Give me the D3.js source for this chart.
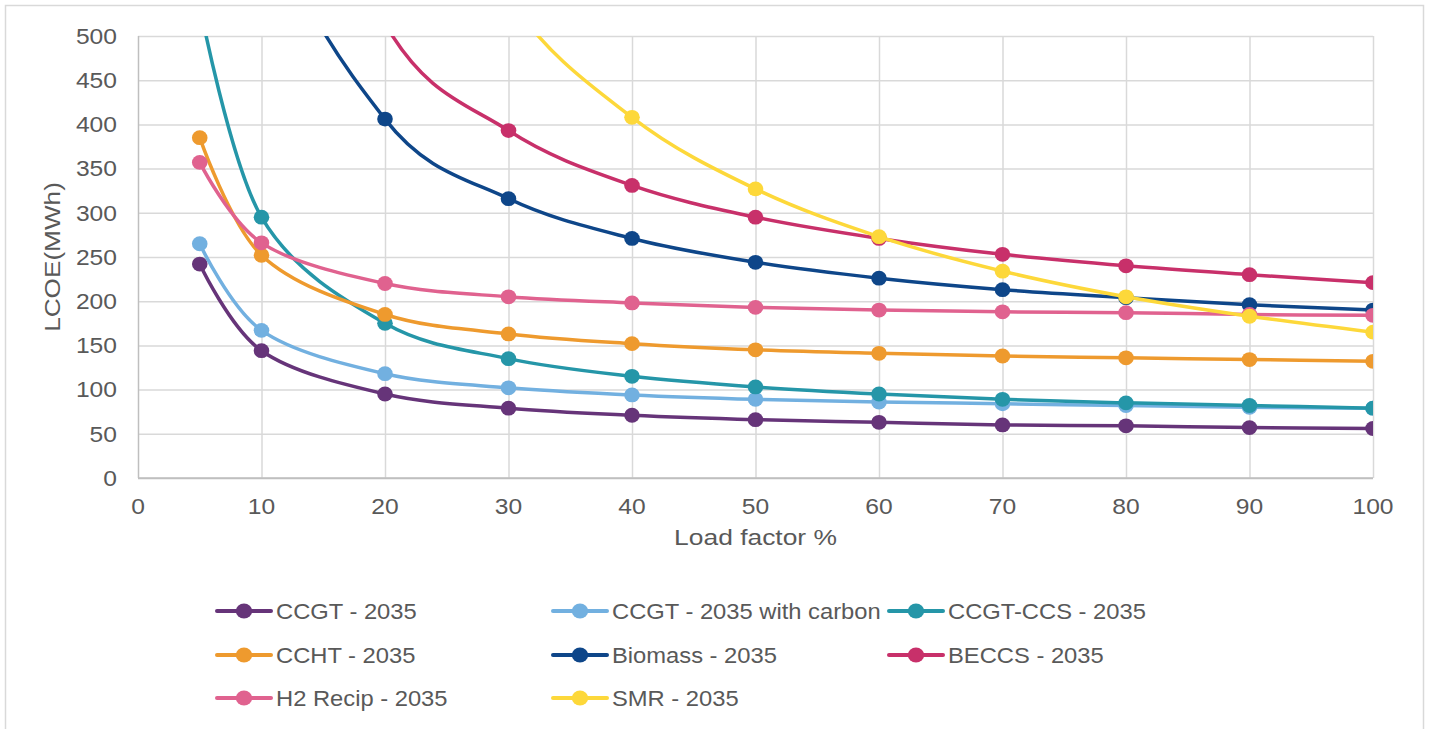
<!DOCTYPE html>
<html><head><meta charset="utf-8">
<script src="https://cdn.jsdelivr.net/npm/d3@7"></script>
<style>
body{margin:0;background:#fff}
svg{display:block}
text{font-family:"Liberation Sans",Arial,sans-serif;fill:#595959}
</style>
</head><body><svg id="c" width="1431" height="729"></svg>
<script>
// ---- data ----
const loadFactors = [5, 10, 20, 30, 40, 50, 60, 70, 80, 90, 100];
const seriesNames = ["CCGT - 2035", "CCGT - 2035 with carbon", "CCGT-CCS - 2035", "CCHT - 2035",
  "Biomass - 2035", "BECCS - 2035", "H2 Recip - 2035", "SMR - 2035"];
const ccgt       = [242, 144, 95, 79, 71, 66, 63, 60, 59, 57, 56];
const ccgtCarbon = [265, 167, 118, 102, 94, 89, 86, 84, 82, 80, 79];
const ccgtCcs    = [535, 295, 175, 135, 115, 103, 95, 89, 85, 82, 79];
const ccht       = [385, 252, 185, 163, 152, 145, 141, 138, 136, 134, 132];
const biomass    = [1216, 676, 406, 316, 271, 244, 226, 213, 204, 196, 190];
const beccs      = [1612, 880, 514, 393, 331, 295, 271, 253, 240, 230, 221];
const h2Recip    = [357, 266, 220, 205, 198, 193, 190, 188, 187, 185, 184];
const smr        = [3243, 1623, 813, 543, 408, 327, 273, 234, 205, 183, 165];
const seriesColors = ["#663479", "#72B0E0", "#2596A8", "#EE9A2E", "#0E4689", "#C8306A", "#E0628F", "#FDD83A"];
const xTickValues = [0, 10, 20, 30, 40, 50, 60, 70, 80, 90, 100];
const yTickValues = [0, 50, 100, 150, 200, 250, 300, 350, 400, 450, 500];
const xTitle = "Load factor %";
const yTitle = "LCOE(MWh)";

const seriesValues = [ccgt, ccgtCarbon, ccgtCcs, ccht, biomass, beccs, h2Recip, smr];
const series = seriesNames.map((name, i) => ({
  name, color: seriesColors[i],
  points: loadFactors.map((lf, j) => ({x: lf, y: seriesValues[i][j]}))
}));

// ---- layout ----
const svg = d3.select("#c");
const L = 138, R = 1373, T = 36, B = 478;
const FS = 22;
const x = d3.scaleLinear().domain([0, 100]).range([L, R]);
const y = d3.scaleLinear().domain([0, 500]).range([B, T]);

// outer frame
svg.append("rect").attr("x", 5.5).attr("y", 5.5).attr("width", 1418).attr("height", 730)
  .attr("fill", "none").attr("stroke", "#d9d9d9").attr("stroke-width", 1.5);

// gridlines via axes
const gy = svg.append("g").attr("transform", `translate(${L},0)`)
  .call(d3.axisLeft(y).tickValues(yTickValues).tickSize(-(R - L)).tickFormat(""));
gy.select(".domain").remove();
gy.selectAll(".tick line").attr("stroke", d => d === 0 ? "#bfbfbf" : "#d9d9d9").attr("stroke-width", 1.5);

const gx = svg.append("g").attr("transform", `translate(0,${B})`)
  .call(d3.axisBottom(x).tickValues(xTickValues).tickSize(-(B - T)).tickFormat(""));
gx.select(".domain").remove();
gx.selectAll(".tick line").attr("stroke", d => d === 0 ? "#bfbfbf" : "#d9d9d9").attr("stroke-width", 1.5);

// bottom axis line on top of verticals
svg.append("line").attr("x1", x(0)).attr("x2", x(100)).attr("y1", y(0)).attr("y2", y(0))
  .attr("stroke", "#bfbfbf").attr("stroke-width", 1.5);

// tick labels
function stretchedText(parent, tx, ty, str, anchor, sx, rot) {
  const g = parent.append("g").attr("transform", `translate(${tx},${ty})` + (rot ? ` rotate(${rot})` : "") + ` scale(${sx},1)`);
  g.append("text").attr("text-anchor", anchor).attr("font-size", FS).text(str);
  return g;
}
const labels = svg.append("g");
yTickValues.forEach(v => stretchedText(labels, 117, y(v) + 7.8, String(v), "end", 1.12));
xTickValues.forEach(v => stretchedText(labels, x(v), 514, String(v), "middle", 1.12));
stretchedText(labels, 755.5, 545, xTitle, "middle", 1.2);
stretchedText(labels, 60, 257, yTitle, "middle", 1.19, -90);

// clip
svg.append("clipPath").attr("id", "plotClip").append("rect")
  .attr("x", L).attr("y", T).attr("width", R - L).attr("height", B - T);

const line = d3.line().x(d => x(d.x)).y(d => y(d.y)).curve(d3.curveCardinal.tension(0));
const plot = svg.append("g").attr("clip-path", "url(#plotClip)");
series.forEach(s => {
  const g = plot.append("g");
  g.append("path").attr("d", line(s.points)).attr("fill", "none")
    .attr("stroke", s.color).attr("stroke-width", 3.5).attr("stroke-linejoin", "round");
  g.selectAll("ellipse").data(s.points.filter(p => p.y <= 500)).join("ellipse")
    .attr("cx", d => x(d.x)).attr("cy", d => y(d.y)).attr("rx", 7.8).attr("ry", 7.4)
    .attr("fill", s.color);
});

// legend
const legRows = [611, 655, 698];
const legCols = [217, 553, 889];
const legend = svg.append("g");
series.forEach((s, i) => {
  const lx = legCols[i % 3], ly = legRows[Math.floor(i / 3)];
  legend.append("line").attr("x1", lx).attr("x2", lx + 54).attr("y1", ly).attr("y2", ly)
    .attr("stroke", s.color).attr("stroke-width", 4).attr("stroke-linecap", "round");
  legend.append("ellipse").attr("cx", lx + 27).attr("cy", ly).attr("rx", 8.2).attr("ry", 7.5).attr("fill", s.color);
  stretchedText(legend, lx + 59, ly + 7.8, s.name, "start", 1.08);
});
</script>
</body></html>
